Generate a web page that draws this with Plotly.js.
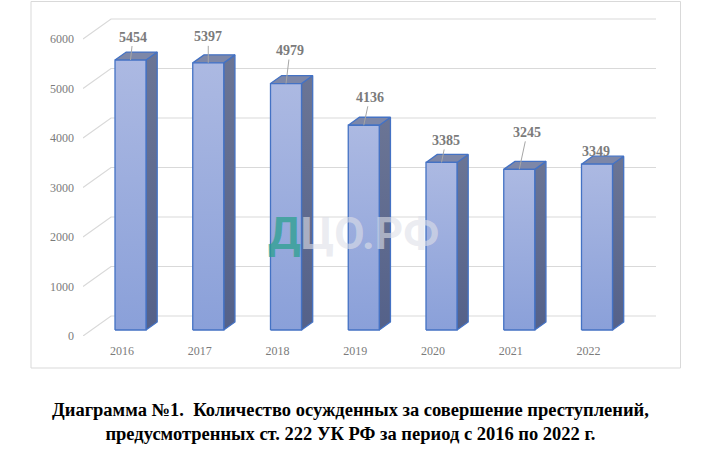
<!DOCTYPE html>
<html><head><meta charset="utf-8">
<script src="https://cdn.plot.ly/plotly-3.0.1.min.js"></script>
<style>html,body{margin:0;padding:0;background:#fff;}</style>
</head><body><div id="chart" style="width:707px;height:469px;"></div>
<script>
// ---- data ----
const years = ['2016','2017','2018','2019','2020','2021','2022'];
const convicted = [5454, 5397, 4979, 4136, 3385, 3245, 3349];
const yTickValues = [0, 1000, 2000, 3000, 4000, 5000, 6000];
const captionText = 'Диаграмма №1.\u00a0 Количество осужденных за совершение преступлений,<br>предусмотренных ст. 222 УК РФ за период с 2016 по 2022 г.';
const watermarkText = '<span style="color:rgba(40,160,140,0.72)">Д</span><span style="color:rgba(222,224,232,0.62)">ЦО.РФ</span>';

// ---- layout geometry (pixels) ----
const W = 707, H = 469;
const L = 83, R = 656, T = 10, B = 336;
const slotPx = 77.75, firstCenterPx = 122.1;
const pxPerUnit = 0.0495;
const depthSlope = 1.4;
const wallDepth = 20, barFrontDepth = 6, barDepth = 8, barHalfPx = 15.5;
const labelOffsets = [[2.5,-23],[0,-26],[4,-33],[6,-28],[4.5,-22],[8,-37],[-1,-13]];
const SERIF = 'Liberation Serif';

const xRange = [(L - firstCenterPx) / slotPx, (R - firstCenterPx) / slotPx];
const yRange = [0, (B - T) / pxPerUnit];
const dX = d => depthSlope * d / slotPx;
const dY = d => d / pxPerUnit;
const pxX = p => (p - L) / (R - L);
const pxY = p => (B - p) / (B - T);

const traces = [];
yTickValues.forEach(t => {
  traces.push({
    type: 'scatter', mode: 'lines', hoverinfo: 'skip', showlegend: false,
    x: [xRange[0], xRange[0] + dX(wallDepth), xRange[1]],
    y: [t, t + dY(wallDepth), t + dY(wallDepth)],
    line: {color: '#d9d9d9', width: 1.2}
  });
});

const edge = {color: '#4472c4', width: 1.3};
convicted.forEach((v, i) => {
  const cx = i + dX(barFrontDepth);
  const xl = cx - barHalfPx / slotPx, xr = cx + barHalfPx / slotPx;
  const y0 = dY(barFrontDepth), y1 = y0 + v;
  const ddx = dX(barDepth), ddy = dY(barDepth);
  traces.push({
    type: 'scatter', mode: 'lines', fill: 'toself', hoverinfo: 'skip', showlegend: false,
    x: [xr, xr + ddx, xr + ddx, xr, xr],
    y: [y0, y0 + ddy, y1 + ddy, y1, y0],
    line: edge,
    fillgradient: {type: 'vertical', colorscale: [[0, '#546189'], [1, '#6b7595']]}
  });
  traces.push({
    type: 'scatter', mode: 'lines', fill: 'toself', hoverinfo: 'skip', showlegend: false,
    x: [xl, xr, xr + ddx, xl + ddx, xl],
    y: [y1, y1, y1 + ddy, y1 + ddy, y1],
    line: edge, fillcolor: '#7d87a8'
  });
  traces.push({
    type: 'scatter', mode: 'lines', fill: 'toself', hoverinfo: 'skip', showlegend: false,
    x: [xl, xr, xr, xl, xl],
    y: [y0, y0, y1, y1, y0],
    line: edge,
    fillgradient: {type: 'vertical', colorscale: [[0, '#8aa0d9'], [1, '#acb9e2']]}
  });
});

const annotations = convicted.map((v, i) => ({
  x: i + dX(barFrontDepth), y: dY(barFrontDepth) + v,
  xref: 'x', yref: 'y',
  text: String(v),
  showarrow: true, arrowhead: 0, arrowwidth: 1,
  arrowcolor: i === convicted.length - 1 ? 'rgba(0,0,0,0)' : '#a6a6a6',
  ax: labelOffsets[i][0], ay: labelOffsets[i][1], standoff: 0, startstandoff: 0,
  font: {family: SERIF, size: 14, weight: 'bold', color: '#7b7b7b'}
}));
annotations.push({
  xref: 'paper', yref: 'paper', x: pxX(353), y: pxY(234),
  xanchor: 'center', yanchor: 'middle', showarrow: false,
  text: watermarkText,
  font: {family: 'Roboto', size: 44, weight: 'bold'}
});
annotations.push({
  xref: 'paper', yref: 'paper', x: pxX(350), y: pxY(422),
  xanchor: 'center', yanchor: 'middle', showarrow: false,
  text: captionText,
  font: {family: SERIF, size: 18.5, weight: 700, color: '#000'}
});

const layout = {
  width: W, height: H,
  margin: {l: L, r: W - R, t: T, b: H - B, autoexpand: false},
  paper_bgcolor: '#fff', plot_bgcolor: '#fff',
  showlegend: false, hovermode: false,
  xaxis: {
    range: xRange, showgrid: false, zeroline: false, showline: false,
    tickmode: 'array', tickvals: years.map((y, i) => i), ticktext: years,
    ticks: '', ticklabelstandoff: 6,
    tickfont: {family: SERIF, size: 12, color: '#7b7b7b'}
  },
  yaxis: {
    range: yRange, showgrid: false, zeroline: false, showline: false,
    tickmode: 'array', tickvals: yTickValues, ticktext: yTickValues.map(String),
    ticks: '', ticklabelstandoff: 8,
    tickfont: {family: SERIF, size: 12, color: '#7b7b7b'}
  },
  shapes: [{
    type: 'rect', xref: 'paper', yref: 'paper', layer: 'below',
    x0: pxX(31), x1: pxX(680.5), y0: pxY(368), y1: pxY(1.5),
    line: {color: '#d9d9d9', width: 1}
  }],
  annotations: annotations
};

Plotly.newPlot('chart', traces, layout, {displayModeBar: false, staticPlot: true});
</script></body></html>
